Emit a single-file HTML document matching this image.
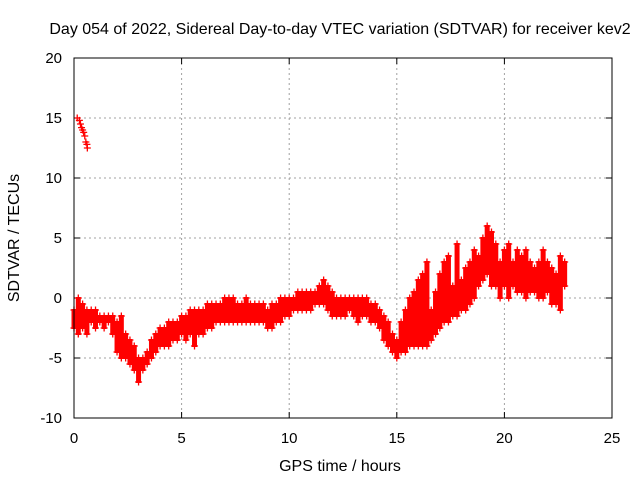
<!DOCTYPE html>
<html><head><meta charset="utf-8"><style>
body{margin:0;background:#fff}
svg{display:block;font-family:"Liberation Sans",sans-serif;font-size:15px}
</style></head><body>
<svg id="chart" width="640" height="480">
<rect width="640" height="480" fill="#fff"/>
<text x="340" y="34" text-anchor="middle" font-size="16">Day 054 of 2022, Sidereal Day-to-day VTEC variation (SDTVAR) for receiver kev2</text>
<text x="340" y="471" text-anchor="middle" font-size="16">GPS time / hours</text>
<text transform="translate(19,238) rotate(-90)" text-anchor="middle" font-size="16">SDTVAR / TECUs</text>
<g id="grid"></g>
<g id="ticks"></g>
<g id="marks"></g>
<rect x="74" y="58" width="538" height="360" fill="none" stroke="#000" stroke-width="1"/>
</svg>
<script>
const xTicks=[0,5,10,15,20,25];
const yTicks=[-10,-5,0,5,10,15,20];
const hours=[0,0.2,0.4,0.6,0.8,1.0,1.2,1.4,1.6,1.8,2.0,2.2,2.4,2.6,2.8,3.0,3.2,3.4,3.6,3.8,4.0,4.2,4.4,4.6,4.8,5.0,5.2,5.4,5.6,5.8,6.0,6.2,6.4,6.6,6.8,7.0,7.2,7.4,7.6,7.8,8.0,8.2,8.4,8.6,8.8,9.0,9.2,9.4,9.6,9.8,10.0,10.2,10.4,10.6,10.8,11.0,11.2,11.4,11.6,11.8,12.0,12.2,12.4,12.6,12.8,13.0,13.2,13.4,13.6,13.8,14.0,14.2,14.4,14.6,14.8,15.0,15.2,15.4,15.6,15.8,16.0,16.2,16.4,16.6,16.8,17.0,17.2,17.4,17.6,17.8,18.0,18.2,18.4,18.6,18.8,19.0,19.2,19.4,19.6,19.8,20.0,20.2,20.4,20.6,20.8,21.0,21.2,21.4,21.6,21.8,22.0,22.2,22.4,22.6,22.8];
const lowVals=[-2.5,-3,-2.5,-3,-2,-2.5,-2,-2.5,-2,-3,-4.5,-5,-5,-5.5,-6,-7,-6,-5.5,-5,-4.5,-4,-4,-4,-3.5,-3.5,-3,-3.5,-3,-4,-3,-3,-2.5,-2.5,-2,-2,-2,-2,-2,-2,-2,-2,-2,-2,-2,-2,-2.5,-2.5,-2,-2,-1.5,-1.5,-1,-1,-1,-1,-1,-0.5,-0.5,-0.5,-1,-1.5,-1.5,-1.5,-1.5,-1,-1.5,-2,-1.5,-1.5,-2,-2,-2.5,-3.5,-4,-4.5,-5,-4.5,-4.5,-4,-4,-4,-4,-4,-3.5,-3,-2.5,-2,-2,-1.5,-1.5,-1,-1,-0.5,0,1,1.5,2,1,1,0,1,0,1,0.5,0.5,0,0.5,0.5,0,0,0.5,-0.5,-0.5,-1,1];
const highVals=[-1,0,-0.5,-1,-1,-1,-1.5,-1.5,-1.5,-1.5,-2,-1.5,-3,-3.5,-4,-5,-5,-4.5,-3.5,-3,-2.5,-2.5,-2,-2,-2,-1.5,-1.5,-1,-1,-1,-1,-0.5,-0.5,-0.5,-0.5,0,0,0,-0.5,-0.5,0,-0.5,-0.5,-0.5,-0.5,-1,-0.5,-0.5,0,0,0,0,0.5,0.5,0.5,0.5,0.5,1,1.5,1,0.5,0,0,0,0,0,0,0,0,-0.5,-0.5,-1,-1.5,-2,-3,-3.5,-2,-1,0,0.5,1.5,2,3,-1,0.5,2,3,3.5,1,4.5,1.5,2.5,3,4,3.5,5,6,5.5,4.5,3,4,4.5,3,4,3.5,4,3,2.5,3,4,3,2.5,2,3.5,3];
const earlyHours=[0.15,0.25,0.3,0.35,0.4,0.45,0.5,0.55,0.6,0.62];
const earlyVals=[15,14.8,14.5,14.2,14,13.8,13.5,13,12.8,12.5];
const X=h=>74+h*(538/25);
const Y=v=>298-v*12;
const NS='http://www.w3.org/2000/svg';
const grid=document.getElementById('grid'),ticks=document.getElementById('ticks'),marks=document.getElementById('marks');
function mk(tag,attrs,parent){const e=document.createElementNS(NS,tag);for(const k in attrs)e.setAttribute(k,attrs[k]);parent.appendChild(e);return e;}
xTicks.forEach(t=>{const x=X(t);
 if(t>0&&t<25){const g=mk('line',{x1:x,x2:x,y1:58,y2:418,stroke:'#a0a0a0','stroke-dasharray':'2,3'},grid);
 
 }
 mk('line',{x1:x,x2:x,y1:418,y2:412,stroke:'#000'},ticks);mk('line',{x1:x,x2:x,y1:58,y2:64,stroke:'#000'},ticks);
 const l=mk('text',{x:x,y:443,'text-anchor':'middle'},ticks);l.textContent=t;
 
 
});
yTicks.forEach(t=>{const y=Y(t);
 if(t>-10&&t<20){const g=mk('line',{x1:74,x2:612,y1:y,y2:y,stroke:'#a0a0a0','stroke-dasharray':'2,3'},grid);
 
 }
 mk('line',{x1:74,x2:80,y1:y,y2:y,stroke:'#000'},ticks);mk('line',{x1:612,x2:606,y1:y,y2:y,stroke:'#000'},ticks);
 const l=mk('text',{x:62,y:y+5,'text-anchor':'end'},ticks);l.textContent=t;
 
 
});
function plus(x,y){const p=mk('path',{d:`M${x-3.5},${y}h7M${x},${y-3.5}v7`,stroke:'#f00','stroke-width':1.3,fill:'none'},marks);
 
 }
hours.forEach((h,i)=>{const x=X(h),y1=Y(highVals[i]),y2=Y(lowVals[i]);
 const r=mk('rect',{x:x-2.5,y:y1-1,width:5,height:Math.max(2,y2-y1+2),fill:'#f00'},marks);
 
 
 plus(x,y1);plus(x,y2);
});
earlyHours.forEach((h,i)=>plus(X(h),Y(earlyVals[i])));
</script>
</body></html>
